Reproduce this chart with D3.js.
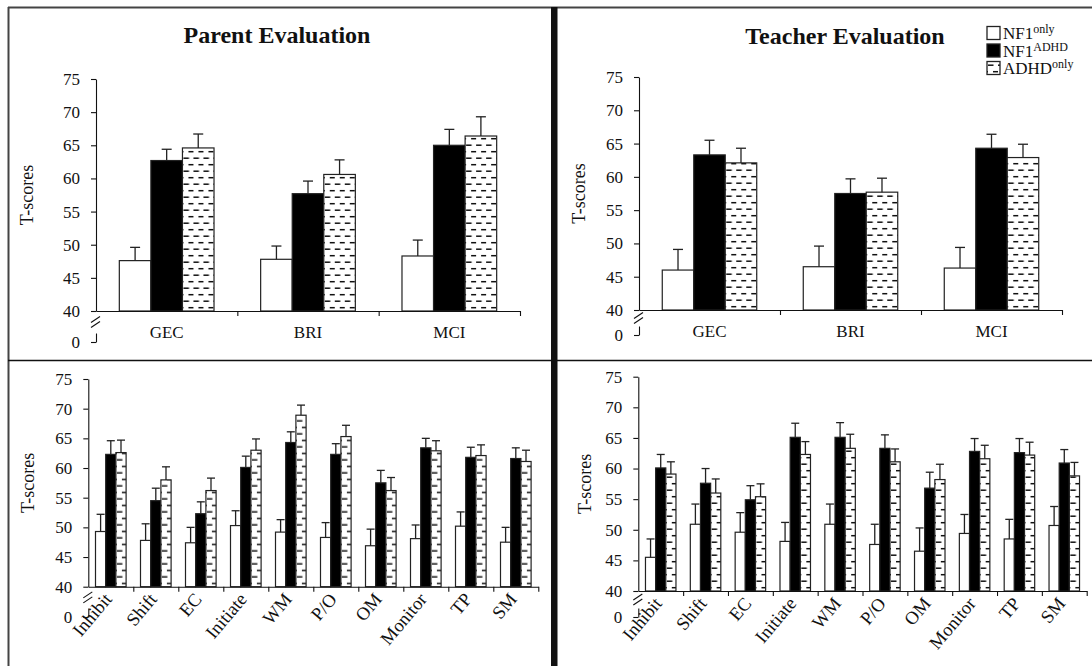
<!DOCTYPE html>
<html>
<head>
<meta charset="utf-8">
<script src="https://cdn.jsdelivr.net/npm/d3@7"></script>
<style>
  html, body { margin: 0; padding: 0; background: #fff; }
  svg { display: block; font-family: "Liberation Serif", "Times New Roman", serif; }
</style>
</head>
<body>
<svg id="chart" width="1092" height="666"></svg>
<script>
// ---- data ----------------------------------------------------------------
const summaryCats = ["GEC", "BRI", "MCI"];
const scaleCats = ["Inhibit", "Shift", "EC", "Initiate", "WM", "P/O", "OM", "Monitor", "TP", "SM"];
const groupBase = ["NF1", "NF1", "ADHD"];
const groupSup = ["only", "ADHD", "only"];
const yTicks = [40, 45, 50, 55, 60, 65, 70, 75];

// Parent ratings, summary indexes (mean, standard error)
const parentSumNF1 = [47.6, 47.8, 48.3];
const parentSumNF1Err = [2.0, 2.0, 2.4];
const parentSumBoth = [62.7, 57.7, 65.0];
const parentSumBothErr = [1.7, 1.9, 2.4];
const parentSumADHD = [64.6, 60.6, 66.4];
const parentSumADHDErr = [2.1, 2.2, 2.9];

// Teacher ratings, summary indexes
const teacherSumNF1 = [46.0, 46.5, 46.3];
const teacherSumNF1Err = [3.1, 3.1, 3.1];
const teacherSumBoth = [63.3, 57.5, 64.3];
const teacherSumBothErr = [2.2, 2.2, 2.1];
const teacherSumADHD = [62.1, 57.7, 62.9];
const teacherSumADHDErr = [2.2, 2.1, 2.0];

// Parent ratings, clinical scales
const parentScaleNF1 = [49.3, 47.8, 47.4, 50.3, 49.2, 48.3, 46.9, 48.1, 50.2, 47.5];
const parentScaleNF1Err = [2.9, 2.8, 2.6, 2.5, 2.1, 2.5, 2.8, 2.3, 2.4, 2.5];
const parentScaleBoth = [62.3, 54.5, 52.3, 60.1, 64.3, 62.3, 57.5, 63.4, 61.8, 61.6];
const parentScaleBothErr = [2.3, 2.1, 2.0, 1.9, 1.8, 1.8, 2.1, 1.6, 1.7, 1.8];
const parentScaleADHD = [62.6, 58.0, 56.2, 63.0, 68.9, 65.3, 56.2, 62.9, 62.1, 61.1];
const parentScaleADHDErr = [2.1, 2.2, 2.1, 1.9, 1.7, 1.9, 2.2, 1.7, 1.8, 1.9];

// Teacher ratings, clinical scales
const teacherScaleNF1 = [45.5, 50.9, 49.6, 48.1, 50.9, 47.6, 46.5, 49.4, 48.5, 50.7];
const teacherScaleNF1Err = [3.0, 3.3, 3.2, 3.1, 3.3, 3.3, 3.8, 3.1, 3.2, 3.1];
const teacherScaleBoth = [60.1, 57.6, 54.9, 65.1, 65.1, 63.3, 56.8, 62.8, 62.6, 60.9];
const teacherScaleBothErr = [2.2, 2.4, 2.3, 2.3, 2.4, 2.2, 2.6, 2.1, 2.3, 2.2];
const teacherScaleADHD = [59.1, 56.0, 55.4, 62.3, 63.3, 61.1, 58.2, 61.6, 62.2, 58.8];
const teacherScaleADHDErr = [2.0, 2.3, 2.1, 2.1, 2.3, 2.1, 2.5, 2.2, 2.1, 2.2];

// ---- drawing -------------------------------------------------------------
const FONT = "Liberation Serif, Times New Roman, serif";
const svg = d3.select("#chart");
svg.append("rect").attr("width", 1092).attr("height", 666).attr("fill", "#fff");
const defs = svg.append("defs");

// dashed fill used for the ADHD-only bars
let patId = 0;
function dashPattern(xOrigin, yOrigin) {
  const id = "dash" + (patId++);
  const p = defs.append("pattern")
    .attr("id", id)
    .attr("patternUnits", "userSpaceOnUse")
    .attr("x", xOrigin).attr("y", yOrigin)
    .attr("width", 10).attr("height", 13);
  p.append("rect").attr("width", 10).attr("height", 13).attr("fill", "#fff");
  p.append("line").attr("x1", 0).attr("x2", 5.5).attr("y1", 3.2).attr("y2", 3.2)
    .attr("stroke", "#111").attr("stroke-width", 1.5);
  p.append("line").attr("x1", 5).attr("x2", 10.5).attr("y1", 9.7).attr("y2", 9.7)
    .attr("stroke", "#111").attr("stroke-width", 1.5);
  return "url(#" + id + ")";
}

function styleAxis(sel) {
  sel.attr("font-family", FONT);
  sel.selectAll("text").attr("font-size", 17).attr("fill", "#111").attr("font-family", FONT);
  sel.selectAll("line, path").attr("stroke", "#111").attr("stroke-width", 1.1);
}

function drawPanel(cfg) {
  const g = svg.append("g");
  const cats = cfg.cats;
  const y = d3.scaleLinear().domain([40, 75]).range([cfg.y40, cfg.y75]);
  const x = d3.scaleBand().domain(cats).range([cfg.x0, cfg.x1])
    .paddingInner(cfg.pad).paddingOuter(cfg.pad / 2);
  const xs = d3.scaleBand().domain([0, 1, 2]).range([0, x.bandwidth()]);

  const series = [
    { vals: cfg.nf1, errs: cfg.nf1Err, kind: 0 },
    { vals: cfg.both, errs: cfg.bothErr, kind: 1 },
    { vals: cfg.adhd, errs: cfg.adhdErr, kind: 2 }
  ];

  // bars
  series.forEach(s => {
    cats.forEach((c, i) => {
      const bx = x(c) + xs(s.kind);
      const by = y(s.vals[i]);
      let fill = "#fff";
      if (s.kind === 1) fill = "#000";
      if (s.kind === 2) fill = dashPattern(bx + 1, cfg.y40);
      g.append("rect")
        .attr("x", bx).attr("y", by)
        .attr("width", xs.bandwidth()).attr("height", y(40) - by)
        .attr("fill", fill).attr("stroke", "#222").attr("stroke-width", 1.2);
    });
  });

  // upper error whiskers
  series.forEach(s => {
    cats.forEach((c, i) => {
      const cx = x(c) + xs(s.kind) + xs.bandwidth() / 2;
      const top = y(s.vals[i] + s.errs[i]);
      g.append("line").attr("x1", cx).attr("x2", cx)
        .attr("y1", y(s.vals[i])).attr("y2", top)
        .attr("stroke", "#222").attr("stroke-width", 1.3);
      g.append("line").attr("x1", cx - cfg.cap / 2).attr("x2", cx + cfg.cap / 2)
        .attr("y1", top).attr("y2", top)
        .attr("stroke", "#222").attr("stroke-width", 1.3);
    });
  });

  // y axis (40-75)
  g.append("g").attr("transform", `translate(${cfg.x0},0)`)
    .call(d3.axisLeft(y).tickValues(yTicks).tickSize(5).tickSizeOuter(0).tickPadding(11))
    .call(styleAxis);

  // lower stub of the y axis carrying the zero tick
  const yLow = d3.scaleLinear().domain([0, 1]).range([cfg.zeroY, cfg.zeroY - 9]);
  g.append("g").attr("transform", `translate(${cfg.x0},0)`)
    .call(d3.axisLeft(yLow).tickValues([0]).tickFormat(d3.format("d"))
      .tickSize(5).tickSizeOuter(0).tickPadding(11))
    .call(styleAxis);

  // axis break marks
  const bm = (cfg.y40 + cfg.zeroY - 9) / 2;
  [-2.5, 2.5].forEach(o => {
    g.append("line")
      .attr("x1", cfg.x0 - 5).attr("y1", bm + o + 3)
      .attr("x2", cfg.x0 + 4).attr("y2", bm + o - 3)
      .attr("stroke", "#111").attr("stroke-width", 1.1);
  });

  // x axis with ticks at category boundaries
  const xb = d3.scaleLinear().domain([0, cats.length]).range([cfg.x0, cfg.x1]);
  g.append("g").attr("transform", `translate(0,${cfg.y40})`)
    .call(d3.axisBottom(xb).tickValues(d3.range(1, cats.length + 1))
      .tickSize(5).tickSizeOuter(0).tickFormat(""))
    .call(styleAxis);

  // category labels
  cats.forEach(c => {
    const cx = x(c) + x.bandwidth() / 2;
    if (cfg.rotate) {
      g.append("text")
        .attr("transform", `translate(${cx + 2},${cfg.y40 + 13}) rotate(-50)`)
        .attr("text-anchor", "end")
        .attr("font-family", FONT)
        .attr("font-size", 18.5).attr("fill", "#111")
        .text(c);
    } else {
      g.append("text")
        .attr("x", cx).attr("y", cfg.y40 + 27)
        .attr("text-anchor", "middle")
        .attr("font-family", FONT)
        .attr("font-size", 17).attr("fill", "#111")
        .text(c);
    }
  });

  // y axis title
  g.append("text")
    .attr("transform", `translate(${cfg.yLabelX},${(cfg.y40 + cfg.y75) / 2}) rotate(-90)`)
    .attr("text-anchor", "middle")
    .attr("font-family", FONT)
    .attr("font-size", 18).attr("fill", "#111")
    .text("T-scores");
}

drawPanel({
  cats: summaryCats, x0: 96, x1: 520, y40: 311, y75: 79, zeroY: 342,
  pad: 0.33, cap: 10, rotate: false, yLabelX: 33,
  nf1: parentSumNF1, nf1Err: parentSumNF1Err,
  both: parentSumBoth, bothErr: parentSumBothErr,
  adhd: parentSumADHD, adhdErr: parentSumADHDErr
});
drawPanel({
  cats: summaryCats, x0: 639, x1: 1062, y40: 310, y75: 77, zeroY: 335,
  pad: 0.33, cap: 10, rotate: false, yLabelX: 585,
  nf1: teacherSumNF1, nf1Err: teacherSumNF1Err,
  both: teacherSumBoth, bothErr: teacherSumBothErr,
  adhd: teacherSumADHD, adhdErr: teacherSumADHDErr
});
drawPanel({
  cats: scaleCats, x0: 88.3, x1: 538.3, y40: 586.7, y75: 379, zeroY: 617,
  pad: 0.32, cap: 8, rotate: true, yLabelX: 34,
  nf1: parentScaleNF1, nf1Err: parentScaleNF1Err,
  both: parentScaleBoth, bothErr: parentScaleBothErr,
  adhd: parentScaleADHD, adhdErr: parentScaleADHDErr
});
drawPanel({
  cats: scaleCats, x0: 638.3, x1: 1086.7, y40: 591, y75: 376.7, zeroY: 617,
  pad: 0.32, cap: 8, rotate: true, yLabelX: 591,
  nf1: teacherScaleNF1, nf1Err: teacherScaleNF1Err,
  both: teacherScaleBoth, bothErr: teacherScaleBothErr,
  adhd: teacherScaleADHD, adhdErr: teacherScaleADHDErr
});

// panel titles
svg.append("text").attr("x", 277).attr("y", 43).attr("text-anchor", "middle")
  .attr("font-family", FONT)
  .attr("font-size", 24).attr("font-weight", "bold").attr("fill", "#111")
  .text("Parent Evaluation");
svg.append("text").attr("x", 845).attr("y", 44).attr("text-anchor", "middle")
  .attr("font-family", FONT)
  .attr("font-size", 24).attr("font-weight", "bold").attr("fill", "#111")
  .text("Teacher Evaluation");

// legend
const legend = svg.append("g");
groupBase.forEach((b, i) => {
  const cy = 33 + i * 17.5;
  const box = legend.append("rect")
    .attr("x", 987).attr("y", cy - 6.5).attr("width", 13).attr("height", 13)
    .attr("stroke", "#222").attr("stroke-width", 1.3);
  if (i === 0) box.attr("fill", "#fff");
  if (i === 1) box.attr("fill", "#000");
  if (i === 2) box.attr("fill", dashPattern(988, cy - 6));
  const t = legend.append("text")
    .attr("x", 1003).attr("y", cy + 6)
    .attr("font-family", FONT)
    .attr("font-size", 17).attr("fill", "#111");
  t.append("tspan").text(b);
  t.append("tspan").attr("dy", -6).attr("font-size", 12).text(groupSup[i]);
});

// frame
svg.append("line").attr("x1", 8.5).attr("x2", 8.5).attr("y1", 7).attr("y2", 666)
  .attr("stroke", "#444").attr("stroke-width", 2);
svg.append("line").attr("x1", 8).attr("x2", 1092).attr("y1", 7.5).attr("y2", 7.5)
  .attr("stroke", "#444").attr("stroke-width", 2);
svg.append("line").attr("x1", 8).attr("x2", 1092).attr("y1", 360.5).attr("y2", 360.5)
  .attr("stroke", "#111").attr("stroke-width", 1.6);
svg.append("rect").attr("x", 551).attr("y", 7).attr("width", 6.5).attr("height", 659)
  .attr("fill", "#111");
</script>
</body>
</html>
